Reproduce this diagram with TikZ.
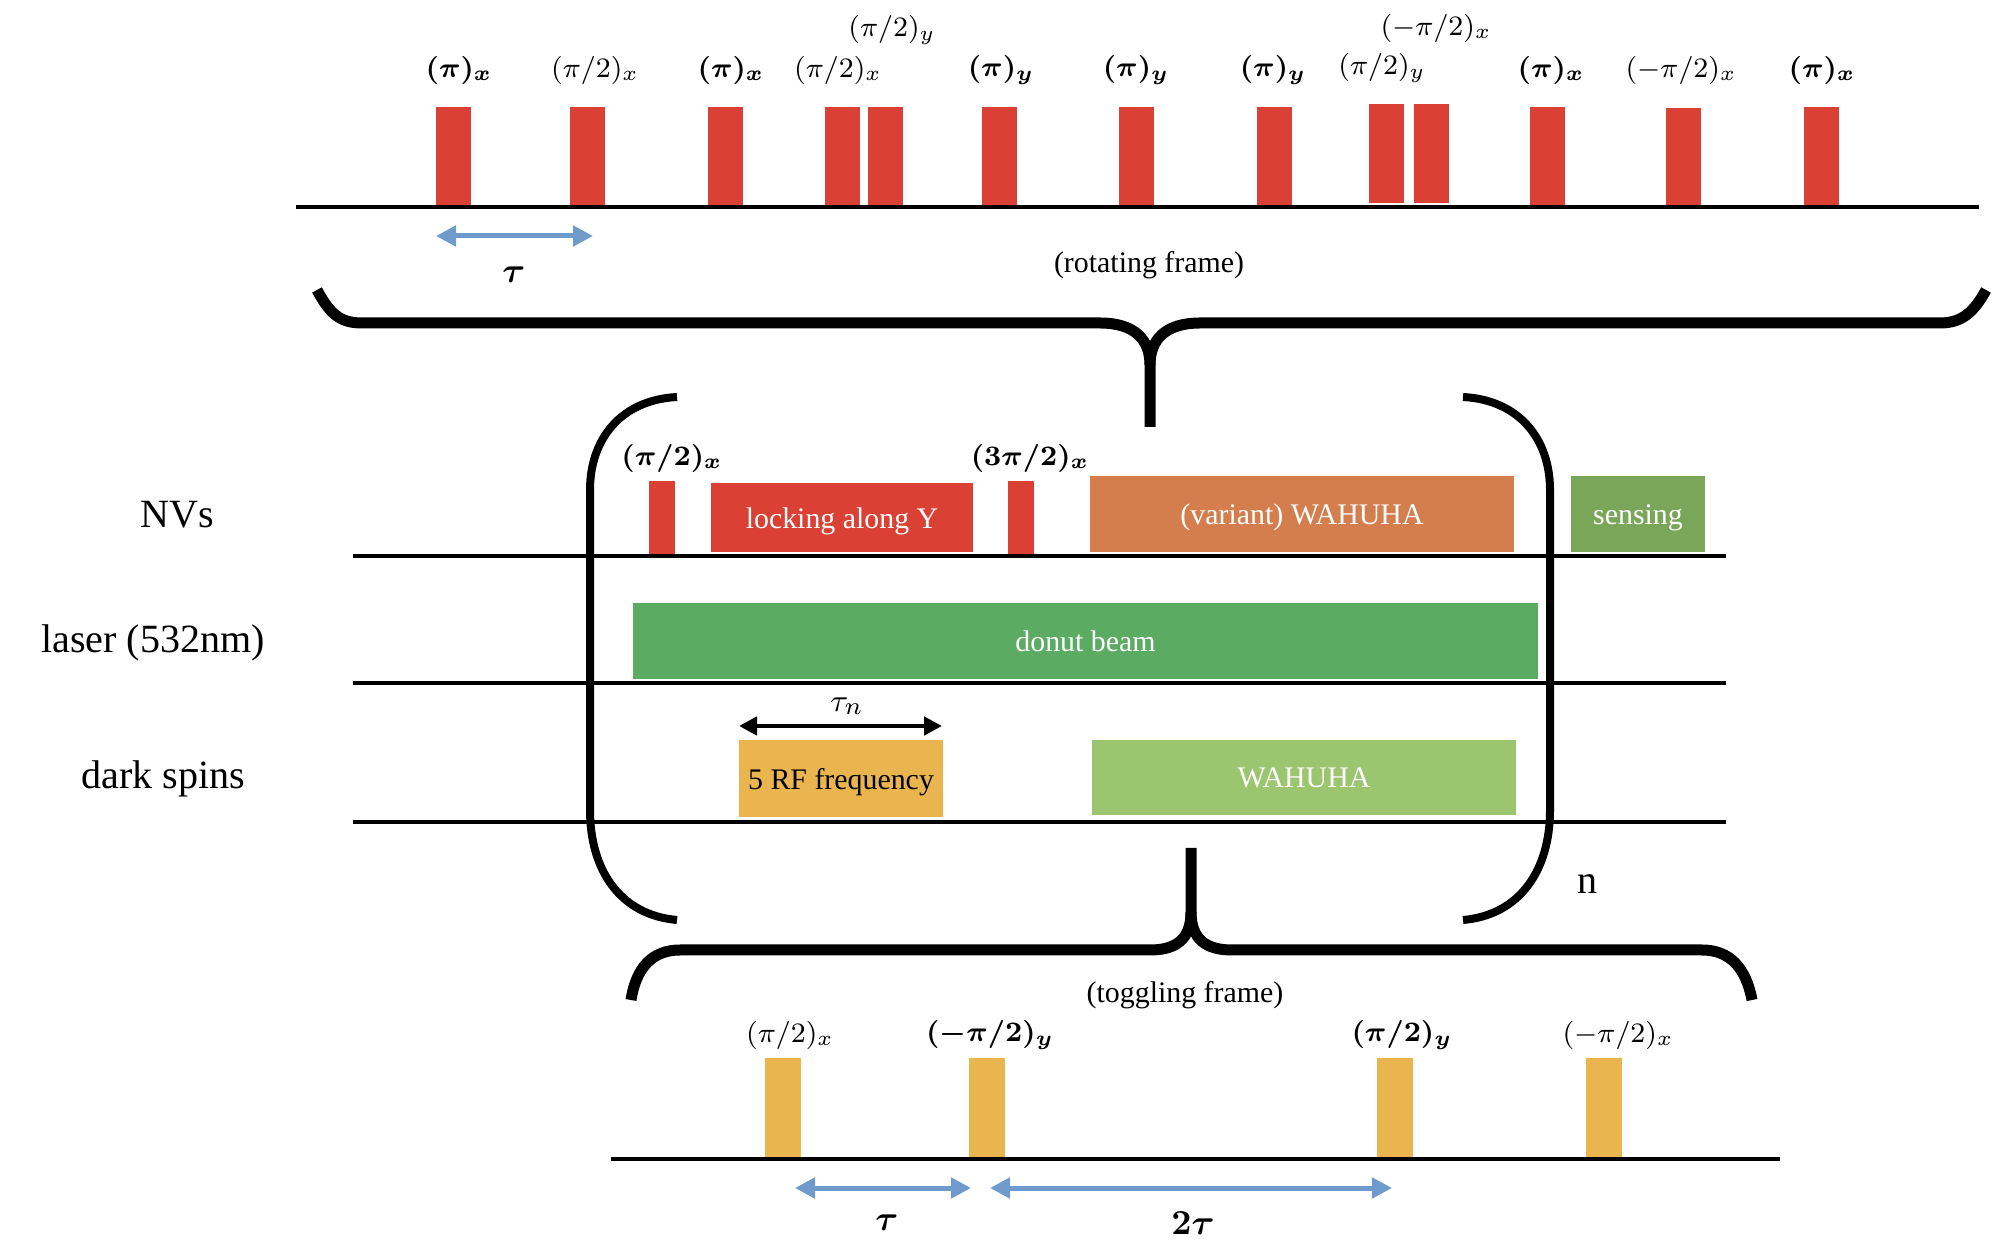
\documentclass[tikz,border=0pt]{standalone}
\usepackage{amsmath}
\usepackage{amssymb}
\usepackage{xcolor}
\usepackage{fontspec}
\setmainfont{Liberation Serif}
\usetikzlibrary{arrows.meta}
\definecolor{pulsered}{RGB}{219,64,52}
\definecolor{wahorange}{RGB}{212,126,77}
\definecolor{sensegreen}{RGB}{122,166,89}
\definecolor{donutgreen}{RGB}{91,171,99}
\definecolor{wahgreen}{RGB}{155,197,110}
\definecolor{rfgold}{RGB}{234,181,78}
\definecolor{arrowblue}{RGB}{110,155,204}

\begin{document}
\begin{tikzpicture}[x=0.1mm,y=-0.1mm,
        lab/.style={inner sep=0pt,font=\fontsize{8.5}{10}\selectfont},
        rowlab/.style={inner sep=0pt,font=\fontsize{11.4}{13}\selectfont},
        boxlab/.style={inner sep=0pt,anchor=south,text depth=0pt,font=\fontsize{8.5}{10}\selectfont},
        pulse/.style={fill=pulsered,inner sep=0pt,anchor=south,minimum width=3.5mm,minimum height=9.9mm},
        nvpulse/.style={fill=pulsered,inner sep=0pt,anchor=south,minimum width=2.6mm,minimum height=7.4mm},
        togpulse/.style={fill=rfgold,inner sep=0pt,anchor=south,minimum width=3.6mm,minimum height=10mm},
        axis/.style={line width=0.35mm},
        brace/.style={line width=1.1mm},
        paren/.style={line width=0.8mm},
        bluearrow/.style={arrowblue,line width=0.5mm,{Triangle[length=2mm,width=2mm]}-{Triangle[length=2mm,width=2mm]}},
        blackarrow/.style={line width=0.45mm,{Triangle[length=1.8mm,width=1.8mm]}-{Triangle[length=1.8mm,width=1.8mm]}}]
        \useasboundingbox (0,0) rectangle (2008,1250);
        % rotating frame
        \coordinate(r0) at (296,207);
        \coordinate(r1) at (1979,207);
        \node[pulse](p1) at (453,207) {};
        \node[pulse](p2) at (587,207) {};
        \node[pulse](p3) at (725.5,207) {};
        \node[pulse](p4) at (842,207) {};
        \node[pulse](p5) at (885.5,207) {};
        \node[pulse](p6) at (999.5,207) {};
        \node[pulse](p7) at (1136.5,207) {};
        \node[pulse](p8) at (1274.5,207) {};
        \node[pulse](p9) at (1386,204) {};
        \node[pulse](p10) at (1431,204) {};
        \node[pulse](p11) at (1547.5,207) {};
        \node[pulse,minimum height=9.8mm](p12) at (1683,207) {};
        \node[pulse](p13) at (1821.5,207) {};
        \draw[axis](r0)--(r1);
        \node[lab](l1) at (459,70) {$\boldsymbol{(\pi)_x}$};
        \node[lab](l2) at (595,70) {$(\pi/2)_x$};
        \node[lab](l3) at (731,70) {$\boldsymbol{(\pi)_x}$};
        \node[lab](l4) at (838,70) {$(\pi/2)_x$};
        \node[lab](l5) at (892,30) {$(\pi/2)_y$};
        \node[lab](l6) at (1001,70) {$\boldsymbol{(\pi)_y}$};
        \node[lab](l7) at (1136,70) {$\boldsymbol{(\pi)_y}$};
        \node[lab](l8) at (1273,70) {$\boldsymbol{(\pi)_y}$};
        \node[lab](l9) at (1382,68) {$(\pi/2)_y$};
        \node[lab](l10) at (1436,28) {$(-\pi/2)_x$};
        \node[lab](l11) at (1551,70) {$\boldsymbol{(\pi)_x}$};
        \node[lab](l12) at (1681,70) {$(-\pi/2)_x$};
        \node[lab](l13) at (1822,70) {$\boldsymbol{(\pi)_x}$};
        \coordinate(ta) at (436,236);
        \coordinate(tb) at (593,236);
        \draw[bluearrow](ta)--(tb);
        \node[lab,font=\fontsize{10}{12}\selectfont](tau) at (514,275) {$\boldsymbol{\tau}$};
        \node[lab](rot) at (1149,265) {(rotating frame)};
        \draw[brace] (317,290) .. controls (330,314) and (340,323) .. (362,323) -- (1100,323)
                .. controls (1135,323) and (1150,340) .. (1150,365) -- (1150,427);
        \draw[brace] (1150,365) .. controls (1150,340) and (1165,323) .. (1200,323) -- (1940,323)
                .. controls (1962,323) and (1974,312) .. (1986,290);
        % sequence
        \node[rowlab](nv) at (177,515) {NVs};
        \node[rowlab](laser) at (153,643) {laser (532nm)};
        \node[rowlab](dark) at (163,779) {dark spins};
        \coordinate(n0) at (353,556);
        \coordinate(n1) at (1726,556);
        \coordinate(s0) at (353,683);
        \coordinate(s1) at (1726,683);
        \coordinate(d0) at (353,822);
        \coordinate(d1) at (1726,822);
        \node[nvpulse](q1) at (662,556) {};
        \node[nvpulse](q2) at (1021,556) {};
        \node[boxlab,fill=pulsered,text=white,minimum width=26.2mm,minimum height=6.9mm](lock) at (842,553) {locking along Y};
        \node[boxlab,fill=wahorange,text=white,minimum width=42.4mm,minimum height=7.6mm](var) at (1302,553) {(variant) WAHUHA};
        \node[boxlab,fill=sensegreen,text=white,minimum width=13.4mm,minimum height=7.6mm](sens) at (1638,553) {sensing};
        \node[boxlab,fill=donutgreen,text=white,minimum width=90.5mm,minimum height=7.6mm](donut) at (1085.5,680) {donut beam};
        \node[boxlab,fill=rfgold,minimum width=20.4mm,minimum height=7.7mm](rf) at (841,818) {5 RF frequency};
        \node[boxlab,fill=wahgreen,text=white,minimum width=42.4mm,minimum height=7.5mm](wah) at (1304,816) {WAHUHA};
        \draw[axis](n0)--(n1);
        \draw[axis](s0)--(s1);
        \draw[axis](d0)--(d1);
        \node[lab](m1) at (672,458) {$\boldsymbol{(\pi/2)_x}$};
        \node[lab](m2) at (1030,458) {$\boldsymbol{(3\pi/2)_x}$};
        \coordinate(na) at (739,726);
        \coordinate(nb) at (942,726);
        \draw[blackarrow](na)--(nb);
        \node[lab,font=\fontsize{9.5}{11}\selectfont](taun) at (847,706) {$\tau_n$};
        \draw[paren] (677,397) .. controls (620,400) and (590,440) .. (590,490) -- (590,810)
                .. controls (590,870) and (620,915) .. (677,920);
        \draw[paren] (1463,397) .. controls (1520,400) and (1550,440) .. (1550,490) -- (1550,810)
                .. controls (1550,870) and (1520,915) .. (1463,920);
        \node[rowlab](n) at (1587,884) {n};
        % toggling frame
        \draw[brace] (1191,848) -- (1191,912) .. controls (1191,940) and (1175,950) .. (1150,950) -- (680,950)
                .. controls (652,950) and (636,968) .. (631,1000);
        \draw[brace] (1191,912) .. controls (1191,940) and (1207,950) .. (1232,950) -- (1702,950)
                .. controls (1730,950) and (1746,968) .. (1752,1000);
        \node[lab](tog) at (1185,995) {(toggling frame)};
        \coordinate(g0) at (611,1159);
        \coordinate(g1) at (1780,1159);
        \node[togpulse](u1) at (782.5,1159) {};
        \node[togpulse](u2) at (986.5,1159) {};
        \node[togpulse](u3) at (1395,1159) {};
        \node[togpulse](u4) at (1604,1159) {};
        \draw[axis](g0)--(g1);
        \node[lab](k1) at (790,1035) {$(\pi/2)_x$};
        \node[lab](k2) at (990,1035) {$\boldsymbol{(-\pi/2)_y}$};
        \node[lab](k3) at (1402,1035) {$\boldsymbol{(\pi/2)_y}$};
        \node[lab](k4) at (1618,1035) {$(-\pi/2)_x$};
        \coordinate(ga) at (795,1188);
        \coordinate(gb) at (971,1188);
        \coordinate(gc) at (990,1188);
        \coordinate(gd) at (1392,1188);
        \draw[bluearrow](ga)--(gb);
        \draw[bluearrow](gc)--(gd);
        \node[lab,font=\fontsize{10}{12}\selectfont](tau1) at (887,1223) {$\boldsymbol{\tau}$};
        \node[lab,font=\fontsize{10}{12}\selectfont](tau2) at (1193,1223) {$\boldsymbol{2\tau}$};
        \end{tikzpicture}
\end{document}
